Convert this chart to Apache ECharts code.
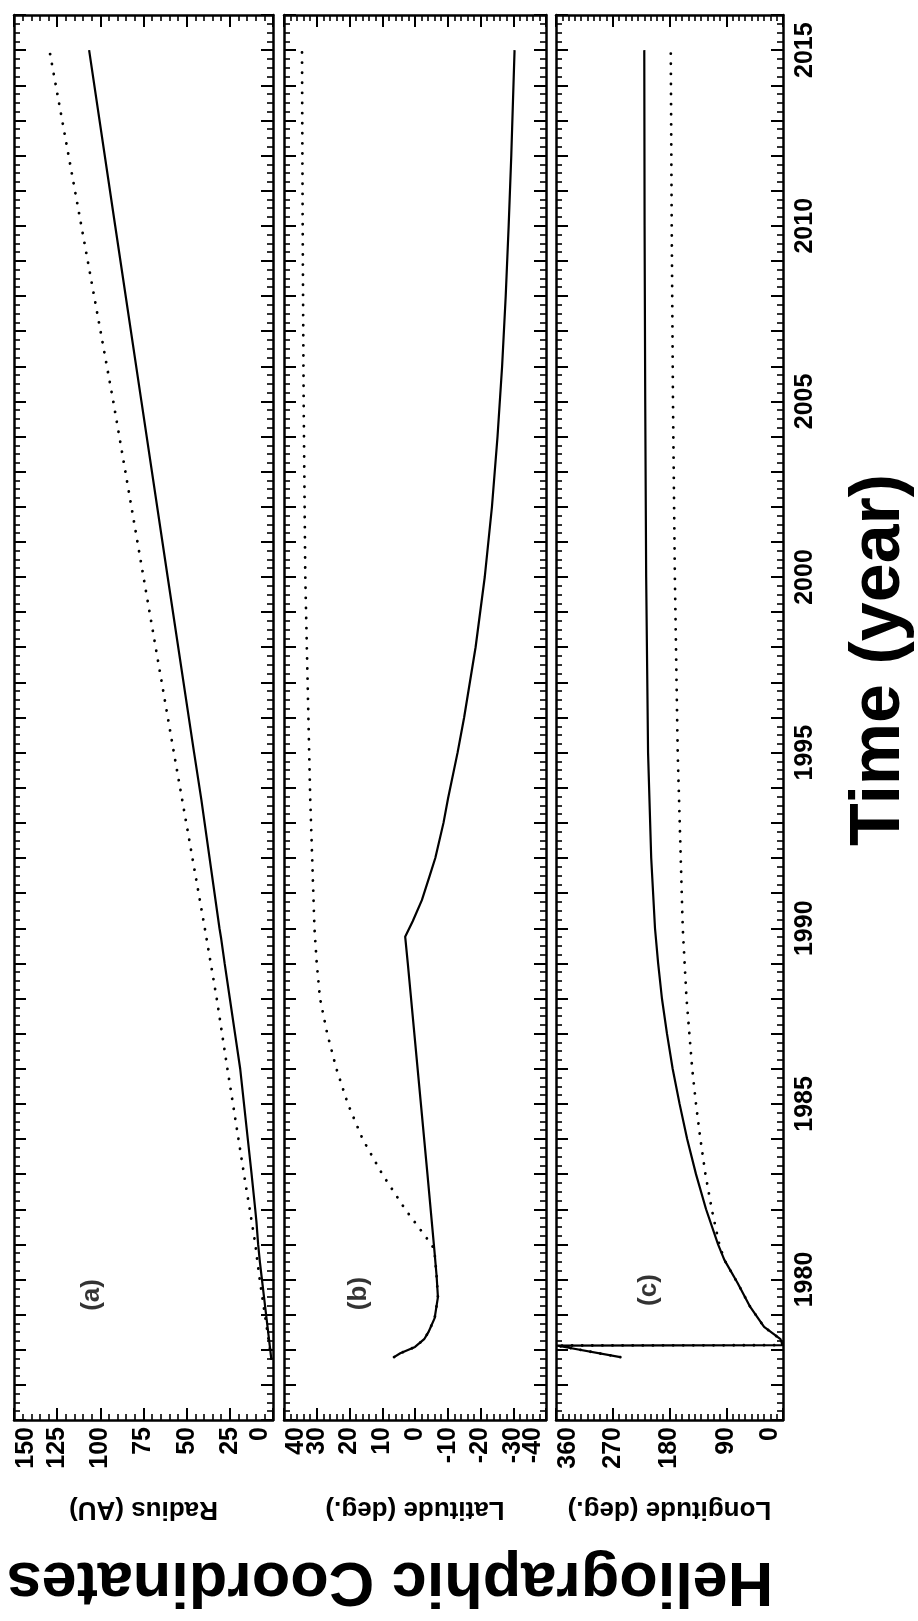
<!DOCTYPE html>
<html><head><meta charset="utf-8">
<script src="https://cdn.jsdelivr.net/npm/echarts@6/dist/echarts.min.js"></script>
<style>html,body{margin:0;padding:0;background:#fff}#c{width:918px;height:1621px}</style>
</head><body><div id="c"></div>
<script>
// ---- data (time in years, values in panel units) ----
const timeRange = [1976, 2016];
const timeLabelStep = 5;
const radiusRange = [0, 150];
const latitudeRange = [-40, 40];
const longitudeRange = [0, 360];
const radiusStep = 25, latitudeStep = 10, longitudeStep = 90;

// [value, year]
const radiusSolid = [[1, 1977.75],[1.6, 1978],[2.8, 1978.5],[4.0, 1979],[5.2, 1979.5],[6.4, 1980],[7.6, 1980.5],[8.6, 1981],[9.6, 1981.65],[10.3, 1982],[12.4, 1983],[14.6, 1984],[16.8, 1985],[19.0, 1986],[22, 1987],[25, 1988],[28, 1989],[30, 1989.7],[31, 1990],[41.5, 1993.66],[45.7, 1995],[61, 2000],[76.2, 2005],[91.4, 2010],[106.5, 2015]];
const radiusDotted = [[1, 1977.75],[1.7, 1978],[3.2, 1978.5],[4.7, 1979],[6.2, 1979.5],[7.7, 1980],[9, 1980.5],[10.2, 1981],[13.5, 1982],[16.8, 1983],[20, 1984],[23.2, 1985],[26.4, 1986],[32.6, 1988],[39.5, 1990],[52.6, 1993.66],[57.4, 1995],[75, 2000],[92.5, 2005],[111, 2010],[129.5, 2015]];

const latitudeSolid = [[6.4, 1977.79],[4.5, 1977.9],[0, 1978.08],[-2.8, 1978.3],[-4.1, 1978.5],[-6.0, 1978.9],[-7.0, 1979.5],[-6.6, 1980.1],[-5.9, 1980.85],[-3.8, 1983],[-1.8, 1985],[0.2, 1987],[2.2, 1989],[3.0, 1989.76],[0.7, 1990.2],[-2.1, 1990.8],[-4.5, 1991.5],[-6.2, 1992],[-8.7, 1993],[-10.1, 1993.7],[-13, 1995],[-15, 1996],[-18.5, 1998],[-21.3, 2000],[-23.5, 2002],[-25.2, 2004],[-26.6, 2006],[-27.7, 2008],[-28.6, 2010],[-29.4, 2012],[-30.4, 2015]];
const latitudeDotted = [[6.4, 1977.79],[4.5, 1977.9],[0, 1978.08],[-2.8, 1978.3],[-4.1, 1978.5],[-6.0, 1978.9],[-7.0, 1979.5],[-6.6, 1980.1],[-5.9, 1980.85],[-5, 1981],[-1, 1981.5],[3, 1982],[6.5, 1982.5],[10, 1983],[13, 1983.5],[16, 1984],[20.5, 1985],[24, 1986],[26.8, 1987],[29, 1988],[30, 1989],[30.7, 1990],[32, 1993.7],[33.5, 2000],[34, 2005],[34.3, 2010],[34.5, 2015]];

const longitudeSolid = [[258, 1977.79],[359.5, 1978.12],[0.5, 1978.13],[4, 1978.3],[30, 1978.65],[52, 1979.22],[72, 1979.9],[93, 1980.56],[103, 1981],[122, 1982],[138, 1983],[152, 1984],[164, 1985],[175, 1986],[184, 1987],[192, 1988],[198, 1989],[203, 1990],[209, 1992],[214, 1995],[217, 2000],[218.5, 2005],[219.5, 2010],[220, 2015]];
const longitudeDotted = [[258, 1977.79],[359.5, 1978.12],[0.5, 1978.13],[4, 1978.3],[30, 1978.65],[52, 1979.22],[72, 1979.9],[93, 1980.56],[101, 1981],[107, 1981.5],[113, 1982],[123, 1983],[131, 1984],[138, 1985],[144, 1986],[153, 1988],[159, 1990],[167, 1995],[171.5, 2000],[174.5, 2005],[176.5, 2010],[178, 2015]];

const panelNames = ['Radius (AU)', 'Latitude (deg.)', 'Longitude (deg.)'];
const panelTags = ['(a)', '(b)', '(c)'];
const panelTagPos = [[105, 1979.56], [17, 1979.6], [212, 1979.7]];

// ---- chart ----
const F = "'Liberation Sans', Arial, Helvetica, sans-serif";
const panels = [
  {range: radiusRange, step: radiusStep, minor: 5, solid: radiusSolid, dotted: radiusDotted, grid: {left: 14, width: 259}},
  {range: latitudeRange, step: latitudeStep, minor: 5, solid: latitudeSolid, dotted: latitudeDotted, grid: {left: 284, width: 262}},
  {range: longitudeRange, step: longitudeStep, minor: 9, solid: longitudeSolid, dotted: longitudeDotted, grid: {left: 556, width: 227}}
];

const labelFont = {fontSize: 25, fontWeight: 'bold', color: '#000', fontFamily: F};
const axisLine = {show: true, onZero: false, lineStyle: {color: '#000', width: 2.5}};
const grids = [], xAxes = [], yAxes = [], series = [];
panels.forEach((p, i) => {
  grids.push({left: p.grid.left, width: p.grid.width, top: 15, height: 1405, outerBoundsMode: 'none'});
  const xBase = {
    gridIndex: i, type: 'value', inverse: true, min: p.range[0], max: p.range[1], interval: p.step,
    axisLine: axisLine,
    axisTick: {show: true, inside: true, length: 12, lineStyle: {color: '#000', width: 2}},
    minorTick: {show: true, splitNumber: p.minor, length: 6, lineStyle: {color: '#000', width: 1.6}},
    splitLine: {show: false}, minorSplitLine: {show: false}
  };
  const mainIdx = xAxes.length;
  // main bottom axis: inner labels + axis name
  xAxes.push(Object.assign({}, xBase, {
    position: 'bottom',
    axisLabel: Object.assign({
      show: true, rotate: 90, margin: 7, showMinLabel: false, showMaxLabel: false,
      formatter: v => (v === p.range[0] || v === p.range[1]) ? '' : String(v)
    }, labelFont),
    name: panelNames[i], nameLocation: 'middle', nameGap: 76, nameRotate: 180,
    nameTextStyle: {fontSize: 26, fontWeight: 'bold', color: '#000', fontFamily: F}
  }));
  // box top edge
  xAxes.push(Object.assign({}, xBase, {position: 'top', axisLabel: {show: false}}));
  // edge labels, pushed inward like the original
  [[p.range[0], 'bottom'], [p.range[1], 'top']].forEach(([edge, va]) => {
    xAxes.push({
      gridIndex: i, type: 'value', inverse: true, min: p.range[0], max: p.range[1], interval: p.step,
      position: 'bottom', axisLine: {show: false}, axisTick: {show: false}, splitLine: {show: false},
      axisLabel: Object.assign({
        show: true, rotate: 90, margin: 7, verticalAlign: va, showMinLabel: true, showMaxLabel: true,
        formatter: v => (v === edge ? String(v) : '')
      }, labelFont)
    });
  });
  const yBase = {
    gridIndex: i, type: 'value', min: timeRange[0], max: timeRange[1], interval: 1,
    axisLine: axisLine,
    axisTick: {show: true, inside: true, length: 12, lineStyle: {color: '#000', width: 2}},
    minorTick: {show: true, splitNumber: 4, length: 6, lineStyle: {color: '#000', width: 1.6}},
    splitLine: {show: false}, minorSplitLine: {show: false}
  };
  const yIdx = yAxes.length;
  yAxes.push(Object.assign({}, yBase, {position: 'left', axisLabel: {show: false}}));
  yAxes.push(Object.assign({}, yBase, {
    position: 'right',
    axisLabel: i === 2 ? Object.assign({
      show: true, rotate: 90, margin: 10, showMinLabel: true, showMaxLabel: true,
      formatter: v => (v % timeLabelStep === 0 ? String(v) : '')
    }, labelFont) : {show: false}
  }));
  series.push({
    type: 'line', xAxisIndex: mainIdx, yAxisIndex: yIdx, data: p.dotted, showSymbol: false, symbol: 'none',
    lineStyle: {color: '#000', width: 2.8, type: [0.1, 10], cap: 'round'}, z: 2
  });
  series.push({
    type: 'line', xAxisIndex: mainIdx, yAxisIndex: yIdx, data: p.solid, showSymbol: false, symbol: 'none',
    lineStyle: {color: '#000', width: 2.2}, z: 3
  });
  series.push({
    type: 'scatter', xAxisIndex: mainIdx, yAxisIndex: yIdx, data: [panelTagPos[i]], symbolSize: 1,
    itemStyle: {color: 'transparent'},
    label: {show: true, position: 'inside', formatter: panelTags[i], rotate: 90, fontSize: 26, fontWeight: 'bold', color: '#000', fontFamily: F}
  });
});

const chart = echarts.init(document.getElementById('c'), null, {renderer: 'canvas'});
chart.setOption({
  animation: false,
  backgroundColor: '#fff',
  grid: grids, xAxis: xAxes, yAxis: yAxes, series: series,
  graphic: [
    {type: 'text', x: 880, y: 660, rotation: Math.PI / 2,
     style: {text: 'Time (year)', fontSize: 70, fontWeight: 'bold', fill: '#000', fontFamily: F, align: 'center', verticalAlign: 'middle'}},
    {type: 'text', x: 390, y: 1580, rotation: Math.PI,
     style: {text: 'Heliographic Coordinates', fontSize: 63, fontWeight: 'bold', fill: '#000', fontFamily: F, align: 'center', verticalAlign: 'middle'}}
  ]
});
</script></body></html>
